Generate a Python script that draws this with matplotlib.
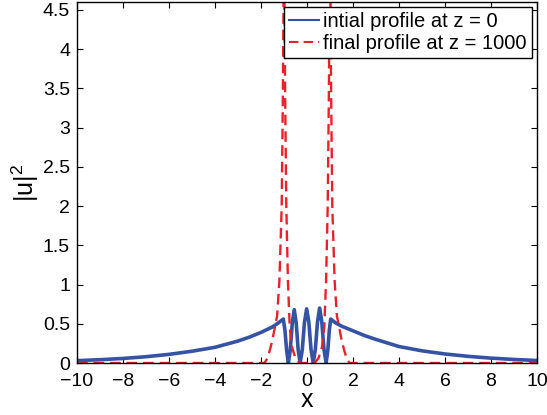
import matplotlib
matplotlib.use('Agg')
import matplotlib.pyplot as plt

# initial profile |u|^2 at z = 0
x_init = [-10, -9, -8, -7, -6, -5, -4, -3, -2.5, -2, -1.5, -1.25, -1.03,
          -0.96, -0.885, -0.81, -0.725, -0.64, -0.555, -0.47, -0.385, -0.30,
          -0.205, -0.11, -0.015, 0.08, 0.175, 0.27, 0.363, 0.457, 0.55, 0.643,
          0.737, 0.83, 0.905, 0.97, 1.03, 1.25, 1.5, 2, 2.5, 3, 4, 5, 6, 7, 8,
          9, 10]
u_init = [0.03, 0.042, 0.058, 0.08, 0.11, 0.15, 0.20, 0.28, 0.33, 0.39, 0.46,
          0.51, 0.56, 0.42, 0.16, 0.0, 0.17, 0.51, 0.68, 0.51, 0.17, 0.0,
          0.17, 0.52, 0.69, 0.52, 0.17, 0.0, 0.175, 0.525, 0.70, 0.525,
          0.175, 0.0, 0.16, 0.42, 0.56, 0.51, 0.47, 0.41, 0.35, 0.30, 0.21,
          0.155, 0.115, 0.085, 0.062, 0.045, 0.032]

# final profile |u|^2 at z = 1000 (peaks run off the top of the axes)
x_final = [-10, -1.85, -1.72, -1.6, -1.5, -1.4, -1.3, -1.2, -1.1, -1.05,
           -1.02, -1.0, -0.98, -0.95, -0.9, -0.83, -0.75, -0.65, -0.5, -0.35,
           -0.3, 0.3, 0.35, 0.5, 0.65, 0.75, 0.83, 0.9, 0.95, 0.98, 1.0, 1.02,
           1.05, 1.1, 1.2, 1.3, 1.4, 1.5, 1.6, 1.72, 1.85, 10]
u_final = [0, 0, 0.06, 0.18, 0.3, 0.45, 0.6, 1.05, 2.0, 3.4,
           4.6, 6.0, 4.6, 3.4, 2.0, 1.05, 0.45, 0.2, 0.06, 0.01,
           0, 0, 0.01, 0.06, 0.2, 0.45, 1.05, 2.0, 3.4, 4.6, 6.0, 4.6,
           3.4, 2.0, 1.05, 0.6, 0.45, 0.3, 0.18, 0.06, 0, 0]

xticks = [-10, -8, -6, -4, -2, 0, 2, 4, 6, 8, 10]
yticks = [0, 0.5, 1, 1.5, 2, 2.5, 3, 3.5, 4, 4.5]

plt.rcParams['font.family'] = ['Liberation Sans', 'DejaVu Sans']
plt.rcParams['mathtext.fontset'] = 'custom'
plt.rcParams['mathtext.rm'] = 'Liberation Sans'

fig = plt.figure(figsize=(5.47, 4.15), dpi=100)
ax = fig.add_axes([0.1408, 0.1253, 0.8409, 0.8699])

ax.plot(x_init, u_init, color='#3553a5', lw=2.6, label='intial profile at z = 0')
ax.plot(x_final, u_final, color='#e8212b', lw=1.7, ls=(0, (4.5, 2.5)),
        label='final profile at z = 1000')

ax.set_xlim(-10, 10)
ax.set_ylim(0, 4.6)
ax.set_xticks(xticks)
ax.set_yticks(yticks)
ax.set_xticklabels(['\u2212%g' % -t if t < 0 else '%g' % t for t in xticks])
ax.set_yticklabels(['%g' % t for t in yticks])
ax.tick_params(direction='in', length=4, width=0.8, labelsize=14,
               top=True, right=True)
ax.tick_params(axis='x', pad=7)
ax.tick_params(axis='y', pad=5)
for s in ax.spines.values():
    s.set_linewidth(1.0)

ax.set_xlabel('x', fontsize=18, labelpad=-1)
ax.set_ylabel(r'$\mathrm{|u|^2}$', fontsize=18, labelpad=1)

leg = ax.legend(loc='upper right', fontsize=14.5, handlelength=1.5,
                handletextpad=0.2, labelspacing=0.15, borderpad=0.25,
                borderaxespad=0.25, fancybox=False, framealpha=1)
leg.get_frame().set_edgecolor('black')
leg.get_frame().set_linewidth(1.0)
for line in leg.get_lines():
    line.set_linewidth(1.5)

plt.savefig('out.png', format='png', dpi=100)
